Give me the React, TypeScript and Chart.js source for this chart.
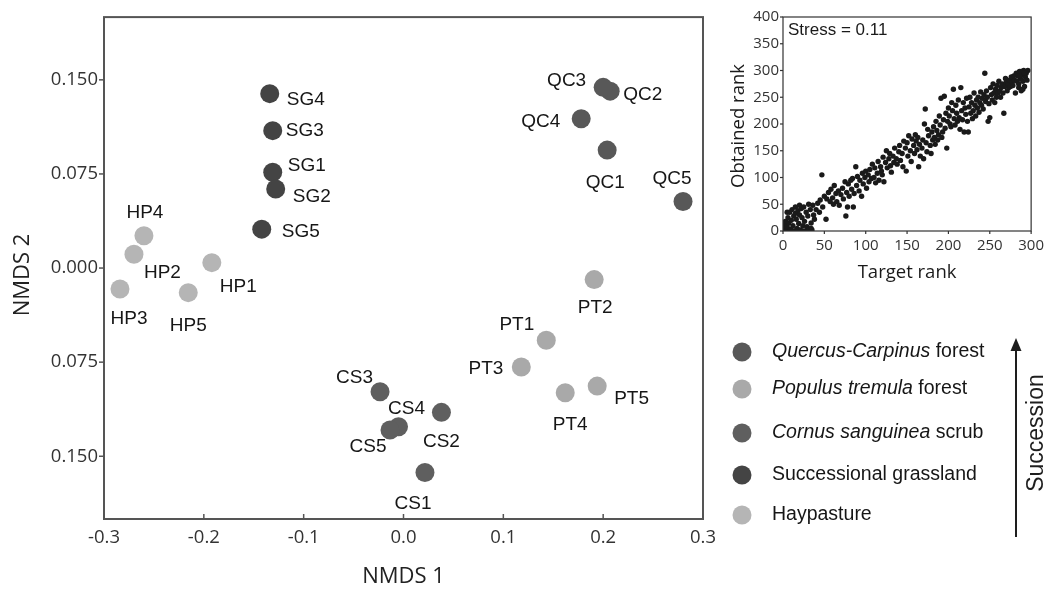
import React, { useEffect, useRef } from "react";
import { Chart, registerables } from "chart.js";

Chart.register(...registerables);

// ---------------- Data ----------------
const groupNames = [
  "Quercus-Carpinus forest",
  "Populus tremula forest",
  "Cornus sanguinea scrub",
  "Successional grassland",
  "Haypasture",
];
const legendItalic = ["Quercus-Carpinus", "Populus tremula", "Cornus sanguinea", "", ""];
const legendPlain = [" forest", " forest", " scrub", "Successional grassland", "Haypasture"];

const qcLabels = ["QC1", "QC2", "QC3", "QC4", "QC5"];
const qcX = [0.204, 0.207, 0.2, 0.178, 0.28];
const qcY = [0.094, 0.141, 0.144, 0.119, 0.053];

const ptLabels = ["PT1", "PT2", "PT3", "PT4", "PT5"];
const ptX = [0.143, 0.191, 0.118, 0.162, 0.194];
const ptY = [-0.0575, -0.0092, -0.0788, -0.0994, -0.0941];

const csLabels = ["CS1", "CS2", "CS3", "CS4", "CS5"];
const csX = [0.0215, 0.038, -0.0235, -0.005, -0.0135];
const csY = [-0.163, -0.115, -0.0986, -0.1265, -0.129];

const sgLabels = ["SG1", "SG2", "SG3", "SG4", "SG5"];
const sgX = [-0.131, -0.128, -0.131, -0.134, -0.142];
const sgY = [0.0764, 0.063, 0.1095, 0.139, 0.031];

const hpLabels = ["HP1", "HP2", "HP3", "HP4", "HP5"];
const hpX = [-0.192, -0.27, -0.284, -0.26, -0.2156];
const hpY = [0.0043, 0.011, -0.0167, 0.0258, -0.0196];

const yTickValues = [-0.15, -0.075, 0, 0.075, 0.15];
const yTickLabels = ["0.150", "0.075", "0.000", "0.075", "0.150"];

// Shepard diagram: [target rank, obtained rank]
const rankPairs: number[][] = [
  [1, 5], [2, 12], [3, 18], [4, 2], [5, 8], [5, 35], [6, 25], [7, 15], [8, 35], [9, 3],
  [10, 20], [11, 40], [12, 10], [12, 0], [13, 28], [14, 0], [15, 33], [15, 45], [16, 22], [17, 5],
  [18, 38], [18, 2], [19, 14], [20, 30], [20, 48], [21, 2], [22, 42], [23, 25], [24, 10], [24, 0],
  [25, 45], [26, 18], [27, 0], [28, 35], [29, 8], [30, 28], [30, 0], [31, 50], [32, 4], [33, 40],
  [34, 15], [34, 5], [35, 2], [36, 48], [37, 30], [38, 22], [40, 40], [42, 52], [44, 35], [45, 58],
  [47, 105], [48, 45], [50, 65], [52, 22], [53, 60], [55, 72], [57, 55], [58, 78], [60, 62], [61, 50],
  [62, 85], [64, 70], [65, 55], [67, 75], [68, 48], [70, 68], [72, 80], [73, 60], [75, 92], [76, 28],
  [77, 72], [78, 45], [79, 88], [80, 65], [82, 95], [83, 78], [84, 98], [85, 45], [86, 70], [88, 120],
  [89, 85], [90, 102], [92, 75], [93, 95], [95, 65], [96, 108], [97, 88], [99, 100], [100, 112], [101, 80],
  [103, 105], [104, 92], [105, 115], [107, 98], [108, 125], [110, 100], [111, 118], [112, 90], [114, 108], [115, 130],
  [116, 95], [118, 120], [119, 112], [120, 105], [121, 138], [122, 92], [124, 128], [125, 150], [126, 118], [128, 135],
  [129, 145], [130, 122], [131, 110], [133, 140], [134, 128], [135, 155], [137, 135], [138, 125], [140, 148], [141, 160],
  [142, 132], [144, 145], [145, 120], [146, 168], [148, 155], [149, 112], [150, 165], [151, 140], [152, 178], [154, 150],
  [155, 130], [156, 172], [158, 160], [159, 145], [160, 180], [161, 168], [162, 152], [163, 175], [164, 120], [165, 162],
  [166, 140], [168, 155], [169, 170], [170, 135], [171, 200], [172, 228], [173, 165], [174, 148], [175, 190], [176, 178],
  [178, 160], [179, 145], [180, 185], [181, 170], [182, 195], [183, 175], [184, 162], [185, 205], [186, 188], [187, 170],
  [188, 180], [189, 215], [190, 198], [191, 248], [192, 175], [193, 185], [194, 208], [195, 252], [196, 192], [197, 220],
  [198, 155], [199, 205], [200, 230], [201, 215], [202, 200], [203, 195], [204, 240], [205, 225], [206, 265], [207, 210],
  [208, 198], [209, 235], [210, 220], [211, 205], [212, 245], [213, 212], [214, 190], [215, 268], [216, 225], [217, 208],
  [218, 240], [219, 185], [220, 230], [221, 218], [222, 248], [223, 205], [224, 185], [225, 232], [226, 250], [227, 220],
  [228, 240], [229, 210], [230, 225], [231, 258], [232, 235], [233, 215], [234, 245], [235, 230], [236, 250], [237, 222],
  [238, 240], [239, 260], [240, 235], [241, 248], [242, 228], [243, 255], [244, 295], [245, 242], [246, 262], [247, 250],
  [248, 205], [249, 238], [250, 212], [251, 268], [252, 255], [253, 245], [254, 275], [255, 258], [256, 240], [257, 265],
  [258, 250], [259, 272], [260, 258], [261, 280], [262, 262], [263, 250], [264, 268], [265, 275], [266, 258], [267, 220],
  [268, 270], [269, 285], [270, 278], [271, 262], [272, 275], [273, 268], [274, 282], [275, 270], [276, 288], [277, 278],
  [278, 272], [279, 290], [280, 282], [281, 258], [282, 295], [283, 280], [284, 290], [285, 275], [286, 298], [287, 285],
  [288, 262], [289, 292], [290, 280], [291, 300], [292, 270], [293, 288], [294, 295], [295, 282], [296, 300], [285, 268],
  [290, 265], [288, 298], [292, 296], [286, 290],
];

// ---------------- Styling / layout ----------------
const groupColors = ["#585858", "#a9a9a9", "#5f5f5f", "#444444", "#b5b5b5"];
const groupLabelSets = [qcLabels, ptLabels, csLabels, sgLabels, hpLabels];

// label placement relative to the point: [align, dx, dy]
const labelPlace: Record<string, [CanvasTextAlign, number, number]> = {
  SG4: ["left", 17, 6], SG3: ["left", 13, 0], SG1: ["left", 15, -6], SG2: ["left", 17, 8], SG5: ["left", 20, 3],
  HP4: ["center", 1, -23], HP2: ["left", 10, 19], HP1: ["left", 8, 24], HP3: ["center", 9, 30], HP5: ["center", 0, 33],
  QC3: ["right", -17, -7], QC2: ["left", 13, 4], QC4: ["right", -21, 3], QC1: ["center", -2, 33], QC5: ["center", -11, -23],
  PT2: ["center", 1, 28], PT1: ["right", -12, -15], PT3: ["right", -18, 2], PT4: ["center", 5, 32], PT5: ["left", 17, 13],
  CS3: ["right", -7, -14], CS4: ["center", 8, -18], CS5: ["center", -22, 17], CS2: ["center", 0, 29], CS1: ["center", -12, 31],
};
const legendRowsY = [352, 389, 433, 475, 515];

const SANS = '"Liberation Sans", Arial, sans-serif';
const OPEN = '"Open Sans", "Liberation Sans", sans-serif';

function line(ctx: CanvasRenderingContext2D, x1: number, y1: number, x2: number, y2: number) {
  ctx.beginPath();
  ctx.moveTo(x1, y1);
  ctx.lineTo(x2, y2);
  ctx.stroke();
}

const mainPlugin = {
  id: "mainDecor",
  afterDatasetsDraw(chart: any) {
    const ctx: CanvasRenderingContext2D = chart.ctx;
    ctx.save();
    ctx.font = `19px ${SANS}`;
    ctx.fillStyle = "#161616";
    ctx.textBaseline = "middle";
    chart.data.datasets.forEach((_ds: any, di: number) => {
      const meta = chart.getDatasetMeta(di);
      meta.data.forEach((el: any, i: number) => {
        const name = groupLabelSets[di][i];
        const p = labelPlace[name];
        ctx.textAlign = p[0];
        ctx.fillText(name, el.x + p[1], el.y + p[2]);
      });
    });
    ctx.restore();
  },
  afterDraw(chart: any) {
    const ctx: CanvasRenderingContext2D = chart.ctx;
    const a = chart.chartArea;
    const xs = chart.scales.x;
    const ys = chart.scales.y;
    ctx.save();
    ctx.strokeStyle = "#555";
    ctx.lineWidth = 2;
    ctx.strokeRect(a.left, a.top, a.right - a.left, a.bottom - a.top);
    ctx.lineWidth = 1.5;
    ys.ticks.forEach((t: any) => {
      const y = ys.getPixelForValue(t.value);
      line(ctx, a.left - 5, y, a.left, y);
    });
    xs.ticks.forEach((t: any) => {
      const x = xs.getPixelForValue(t.value);
      line(ctx, x, a.bottom, x, a.bottom - 5);
    });

    // axis titles
    ctx.fillStyle = "#222";
    ctx.font = `22px ${OPEN}`;
    ctx.textAlign = "center";
    ctx.textBaseline = "middle";
    ctx.fillText("NMDS 1", (a.left + a.right) / 2, 577);
    ctx.save();
    ctx.translate(23, 275);
    ctx.rotate(-Math.PI / 2);
    ctx.fillText("NMDS 2", 0, 0);
    ctx.restore();

    // legend
    groupNames.forEach((_n, i) => {
      const y = legendRowsY[i];
      ctx.beginPath();
      ctx.fillStyle = groupColors[i];
      ctx.arc(742, y, 9.5, 0, Math.PI * 2);
      ctx.fill();
      ctx.fillStyle = "#161616";
      ctx.textAlign = "left";
      ctx.textBaseline = "middle";
      let x = 772;
      if (legendItalic[i]) {
        ctx.font = `italic 19.5px ${SANS}`;
        ctx.fillText(legendItalic[i], x, y);
        x += ctx.measureText(legendItalic[i]).width;
      }
      ctx.font = `19.5px ${SANS}`;
      ctx.fillText(legendPlain[i], x, y);
    });

    // succession arrow
    ctx.strokeStyle = "#1e1e1e";
    ctx.fillStyle = "#1e1e1e";
    ctx.lineWidth = 2;
    line(ctx, 1016, 537, 1016, 348);
    ctx.beginPath();
    ctx.moveTo(1016, 338);
    ctx.lineTo(1010.5, 351);
    ctx.lineTo(1021.5, 351);
    ctx.closePath();
    ctx.fill();
    ctx.save();
    ctx.translate(1037, 433);
    ctx.rotate(-Math.PI / 2);
    ctx.font = `23px ${SANS}`;
    ctx.textAlign = "center";
    ctx.textBaseline = "middle";
    ctx.fillText("Succession", 0, 0);
    ctx.restore();
    ctx.restore();
  },
};

const insetPlugin = {
  id: "insetDecor",
  afterDraw(chart: any) {
    const ctx: CanvasRenderingContext2D = chart.ctx;
    const a = chart.chartArea;
    const xs = chart.scales.x;
    const ys = chart.scales.y;
    ctx.save();
    ctx.strokeStyle = "#333";
    ctx.lineWidth = 1.2;
    ctx.strokeRect(a.left, a.top, a.right - a.left, a.bottom - a.top);
    ys.ticks.forEach((t: any) => {
      const y = ys.getPixelForValue(t.value);
      line(ctx, a.left - 3, y, a.left, y);
    });
    xs.ticks.forEach((t: any) => {
      const x = xs.getPixelForValue(t.value);
      line(ctx, x, a.bottom, x, a.bottom + 3);
    });
    ctx.fillStyle = "#1a1a1a";
    ctx.font = `17px ${SANS}`;
    ctx.textAlign = "left";
    ctx.textBaseline = "middle";
    ctx.fillText("Stress = 0.11", 68, 30);
    ctx.font = `18.5px ${OPEN}`;
    ctx.textAlign = "center";
    ctx.fillText("Target rank", (a.left + a.right) / 2, 273);
    ctx.save();
    ctx.translate(19, (a.top + a.bottom) / 2 + 2);
    ctx.rotate(-Math.PI / 2);
    ctx.fillText("Obtained rank", 0, 0);
    ctx.restore();
    ctx.restore();
  },
};

function fmtX(v: number) {
  if (Math.abs(v) < 1e-9) return "0.0";
  return v.toFixed(1);
}

export default function App() {
  const mainRef = useRef<HTMLCanvasElement | null>(null);
  const insetRef = useRef<HTMLCanvasElement | null>(null);

  useEffect(() => {
    if (!mainRef.current || !insetRef.current) return;
    const sets = [
      [qcX, qcY],
      [ptX, ptY],
      [csX, csY],
      [sgX, sgY],
      [hpX, hpY],
    ];
    const main = new Chart(mainRef.current, {
      type: "scatter",
      data: {
        datasets: sets.map((s, i) => ({
          label: groupNames[i],
          data: s[0].map((x, j) => ({ x, y: s[1][j] })),
          backgroundColor: groupColors[i],
          borderWidth: 0,
          pointRadius: 9.5,
          pointHoverRadius: 9.5,
        })),
      },
      options: {
        responsive: false,
        animation: false,
        events: [],
        layout: { padding: { left: 0, top: 16, right: 347, bottom: 0 } },
        plugins: { legend: { display: false }, tooltip: { enabled: false } },
        scales: {
          x: {
            type: "linear",
            min: -0.3,
            max: 0.3,
            grid: { display: false, drawTicks: false },
            border: { display: false },
            ticks: {
              stepSize: 0.1,
              padding: 8,
              color: "#333",
              font: { family: OPEN, size: 18.5 },
              callback: (v: any) => fmtX(Number(v)),
            },
            afterFit: (s: any) => {
              s.height = 71;
            },
          },
          y: {
            type: "linear",
            min: -0.2,
            max: 0.2,
            grid: { display: false, drawTicks: false },
            border: { display: false },
            afterBuildTicks: (s: any) => {
              s.ticks = yTickValues.map((v) => ({ value: v }));
            },
            ticks: {
              padding: 6,
              color: "#333",
              font: { family: OPEN, size: 18.5 },
              callback: (_v: any, i: number) => yTickLabels[i],
            },
            afterFit: (s: any) => {
              s.width = 104;
            },
          },
        },
      },
      plugins: [mainPlugin],
    });

    const inset = new Chart(insetRef.current, {
      type: "scatter",
      data: {
        datasets: [
          {
            label: "ranks",
            data: rankPairs.map((p) => ({ x: p[0], y: p[1] })),
            backgroundColor: "#1a1a1a",
            borderWidth: 0,
            pointRadius: 2.7,
            pointHoverRadius: 2.7,
          },
        ],
      },
      options: {
        responsive: false,
        animation: false,
        events: [],
        layout: { padding: { left: 0, top: 17, right: 12, bottom: 0 } },
        plugins: { legend: { display: false }, tooltip: { enabled: false } },
        scales: {
          x: {
            type: "linear",
            min: 0,
            max: 300,
            grid: { display: false, drawTicks: false },
            border: { display: false },
            ticks: { stepSize: 50, padding: 6, color: "#333", font: { family: OPEN, size: 15 } },
            afterFit: (s: any) => {
              s.height = 69;
            },
          },
          y: {
            type: "linear",
            min: 0,
            max: 400,
            grid: { display: false, drawTicks: false },
            border: { display: false },
            ticks: { stepSize: 50, padding: 4, color: "#333", font: { family: OPEN, size: 15 } },
            afterFit: (s: any) => {
              s.width = 63;
            },
          },
        },
      },
      plugins: [insetPlugin],
    });

    return () => {
      main.destroy();
      inset.destroy();
    };
  }, []);

  return (
    <div style={{ position: "absolute", left: 0, top: 0, width: 1050, height: 590, background: "#fff" }}>
      <canvas ref={mainRef} width={1050} height={590} style={{ position: "absolute", left: 0, top: 0 }} />
      <canvas ref={insetRef} width={330} height={300} style={{ position: "absolute", left: 720, top: 0 }} />
    </div>
  );
}
